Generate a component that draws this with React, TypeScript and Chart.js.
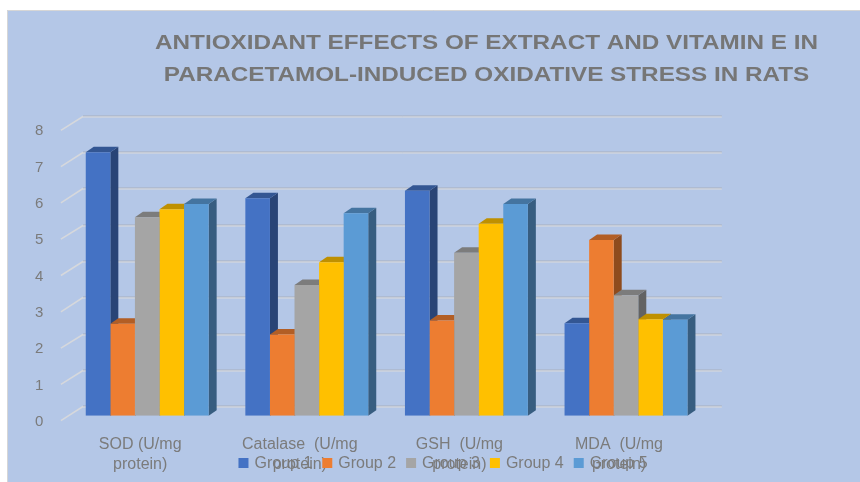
import { useEffect, useRef } from "react";
import { Chart, registerables } from "chart.js";

Chart.register(...registerables);

// ---- data ----
const categories: string[][] = [
  ["SOD (U/mg", "protein)"],
  ["Catalase  (U/mg", "protein)"],
  ["GSH  (U/mg", "protein)"],
  ["MDA  (U/mg", "protein)"],
];
const seriesNames = ["Group 1", "Group 2", "Group 3", "Group 4", "Group 5"];
const group1 = [7.26, 5.99, 6.2, 2.55];
const group2 = [2.53, 2.24, 2.62, 4.84];
const group3 = [5.47, 3.6, 4.49, 3.32];
const group4 = [5.69, 4.23, 5.29, 2.66];
const group5 = [5.83, 5.58, 5.83, 2.64];
const yMin = 0;
const yMax = 8;
const yStep = 1;
const titleLines = [
  "ANTIOXIDANT EFFECTS OF EXTRACT AND VITAMIN E IN",
  "PARACETAMOL-INDUCED OXIDATIVE STRESS IN RATS",
];

// ---- styles ----
const seriesColors = ["#4472c4", "#ed7d31", "#a5a5a5", "#ffc000", "#5b9bd5"];
const FONT = "'Liberation Sans', Arial, sans-serif";
const TEXT_GRAY = "#7b7b7b";
const DEPTH_X = 8;
const DEPTH_Y = 5.5;

function shade(hex: string, f: number): string {
  const n = parseInt(hex.slice(1), 16);
  const r = Math.round(((n >> 16) & 255) * f);
  const g = Math.round(((n >> 8) & 255) * f);
  const b = Math.round((n & 255) * f);
  return `rgb(${r},${g},${b})`;
}

const backgroundPlugin = {
  id: "cardBg",
  beforeDraw(chart: any) {
    const { ctx, width, height } = chart;
    ctx.save();
    ctx.fillStyle = "#ffffff";
    ctx.fillRect(0, 0, width, height);
    ctx.fillStyle = "#b4c7e7";
    ctx.fillRect(7, 10, width - 7, height - 10);
    ctx.strokeStyle = "#d6d6d6";
    ctx.lineWidth = 1;
    ctx.beginPath();
    ctx.moveTo(7.5, height);
    ctx.lineTo(7.5, 10.5);
    ctx.lineTo(width, 10.5);
    ctx.stroke();
    ctx.restore();
  },
};

const wallPlugin = {
  id: "wall3d",
  beforeDatasetsDraw(chart: any) {
    const { ctx, chartArea } = chart;
    const ys = chart.scales.y;
    ctx.save();
    for (let v = yMin; v <= yMax; v += yStep) {
      const yf = ys.getPixelForValue(v);
      const yb = Math.round(yf - 9.5) + 0.5;
      const xb = chartArea.left + 15.6;
      // diagonal side-wall line
      ctx.strokeStyle = "#d6d8dc";
      ctx.lineWidth = 1.5;
      ctx.beginPath();
      ctx.moveTo(chartArea.left - 6.5, yf + 5);
      ctx.lineTo(xb, yb);
      ctx.stroke();
      // back-wall gridline
      ctx.lineWidth = 1;
      ctx.strokeStyle = "#a9afbc";
      ctx.beginPath();
      ctx.moveTo(xb, yb - 0.5);
      ctx.lineTo(chartArea.right + 16, yb - 0.5);
      ctx.stroke();
      ctx.strokeStyle = "#dcdcdc";
      ctx.beginPath();
      ctx.moveTo(xb, yb + 0.5);
      ctx.lineTo(chartArea.right + 16, yb + 0.5);
      ctx.stroke();
    }
    // 3D side and top faces, left to right within each category
    const metas = seriesNames.map((_, i) => chart.getDatasetMeta(i));
    const n = categories.length;
    for (let c = 0; c < n; c++) {
      metas.forEach((meta: any, i: number) => {
        const bar = meta.data[c];
        if (!bar) return;
        const base = seriesColors[i];
        const p = bar.getProps(["x", "y", "base", "width"], true);
        const l = p.x - p.width / 2;
        const r = p.x + p.width / 2;
        ctx.fillStyle = shade(base, 0.6);
        ctx.beginPath();
        ctx.moveTo(r, p.y);
        ctx.lineTo(r + DEPTH_X, p.y - DEPTH_Y);
        ctx.lineTo(r + DEPTH_X, p.base - DEPTH_Y);
        ctx.lineTo(r, p.base);
        ctx.closePath();
        ctx.fill();
        ctx.fillStyle = shade(base, 0.75);
        ctx.beginPath();
        ctx.moveTo(l, p.y);
        ctx.lineTo(l + DEPTH_X, p.y - DEPTH_Y);
        ctx.lineTo(r + DEPTH_X, p.y - DEPTH_Y);
        ctx.lineTo(r, p.y);
        ctx.closePath();
        ctx.fill();
      });
    }
    ctx.restore();
  },
};

const titleLegendPlugin = {
  id: "titleLegend",
  afterDraw(chart: any) {
    const { ctx } = chart;
    ctx.save();
    // title
    ctx.font = `bold 21px ${FONT}`;
    ctx.fillStyle = "#767676";
    ctx.textAlign = "center";
    ctx.textBaseline = "alphabetic";
    const w1 = ctx.measureText(titleLines[0]).width;
    const sx = 663 / w1;
    const baselines = [49, 81.2];
    titleLines.forEach((line, i) => {
      ctx.save();
      ctx.translate(486.5, baselines[i]);
      ctx.scale(sx, 1);
      ctx.fillText(line, 0, 0);
      ctx.restore();
    });
    // legend
    ctx.font = `16px ${FONT}`;
    ctx.textAlign = "left";
    const widths = seriesNames.map((nm) => 16 + ctx.measureText(nm).width + 10);
    const total = widths.reduce((a, b) => a + b, 0) - 10;
    let x = 443 - total / 2;
    seriesNames.forEach((name, i) => {
      ctx.fillStyle = seriesColors[i];
      ctx.fillRect(x, 458, 10, 10);
      ctx.fillStyle = TEXT_GRAY;
      ctx.fillText(name, x + 16, 467.5);
      x += widths[i];
    });
    ctx.restore();
  },
};

export default function App() {
  const ref = useRef<HTMLCanvasElement | null>(null);
  useEffect(() => {
    if (!ref.current) return;
    const all = [group1, group2, group3, group4, group5];
    const chart = new Chart(ref.current, {
      type: "bar",
      data: {
        labels: categories,
        datasets: all.map((d, i) => ({
          label: seriesNames[i],
          data: d,
          backgroundColor: seriesColors[i],
          borderWidth: 0,
          categoryPercentage: 0.77,
          barPercentage: 1,
        })),
      },
      options: {
        responsive: false,
        animation: false,
        devicePixelRatio: 1,
        layout: { padding: { left: 0, top: 125.3, right: 154.2, bottom: 0 } },
        plugins: {
          legend: { display: false },
          title: { display: false },
          tooltip: { enabled: false },
        },
        scales: {
          x: {
            grid: { display: false, drawTicks: false },
            border: { display: false },
            ticks: {
              font: { family: FONT, size: 16, lineHeight: 1.25 },
              color: TEXT_GRAY,
              labelOffset: -7,
              padding: 19,
              maxRotation: 0,
              autoSkip: false,
            },
            afterFit: (s: any) => {
              s.height = 66.3;
            },
          },
          y: {
            min: yMin,
            max: yMax,
            grid: { display: false, drawTicks: false },
            border: { display: false },
            ticks: {
              stepSize: yStep,
              font: { family: FONT, size: 15 },
              color: TEXT_GRAY,
              padding: 24,
              labelOffset: 6,
            },
            afterFit: (s: any) => {
              s.width = 67.4;
            },
          },
        },
      },
      plugins: [backgroundPlugin, wallPlugin, titleLegendPlugin],
    });
    return () => chart.destroy();
  }, []);
  return (
    <div style={{ position: "absolute", left: 0, top: 0, width: 860, height: 482 }}>
      <canvas ref={ref} width={860} height={482} style={{ display: "block" }} />
    </div>
  );
}
